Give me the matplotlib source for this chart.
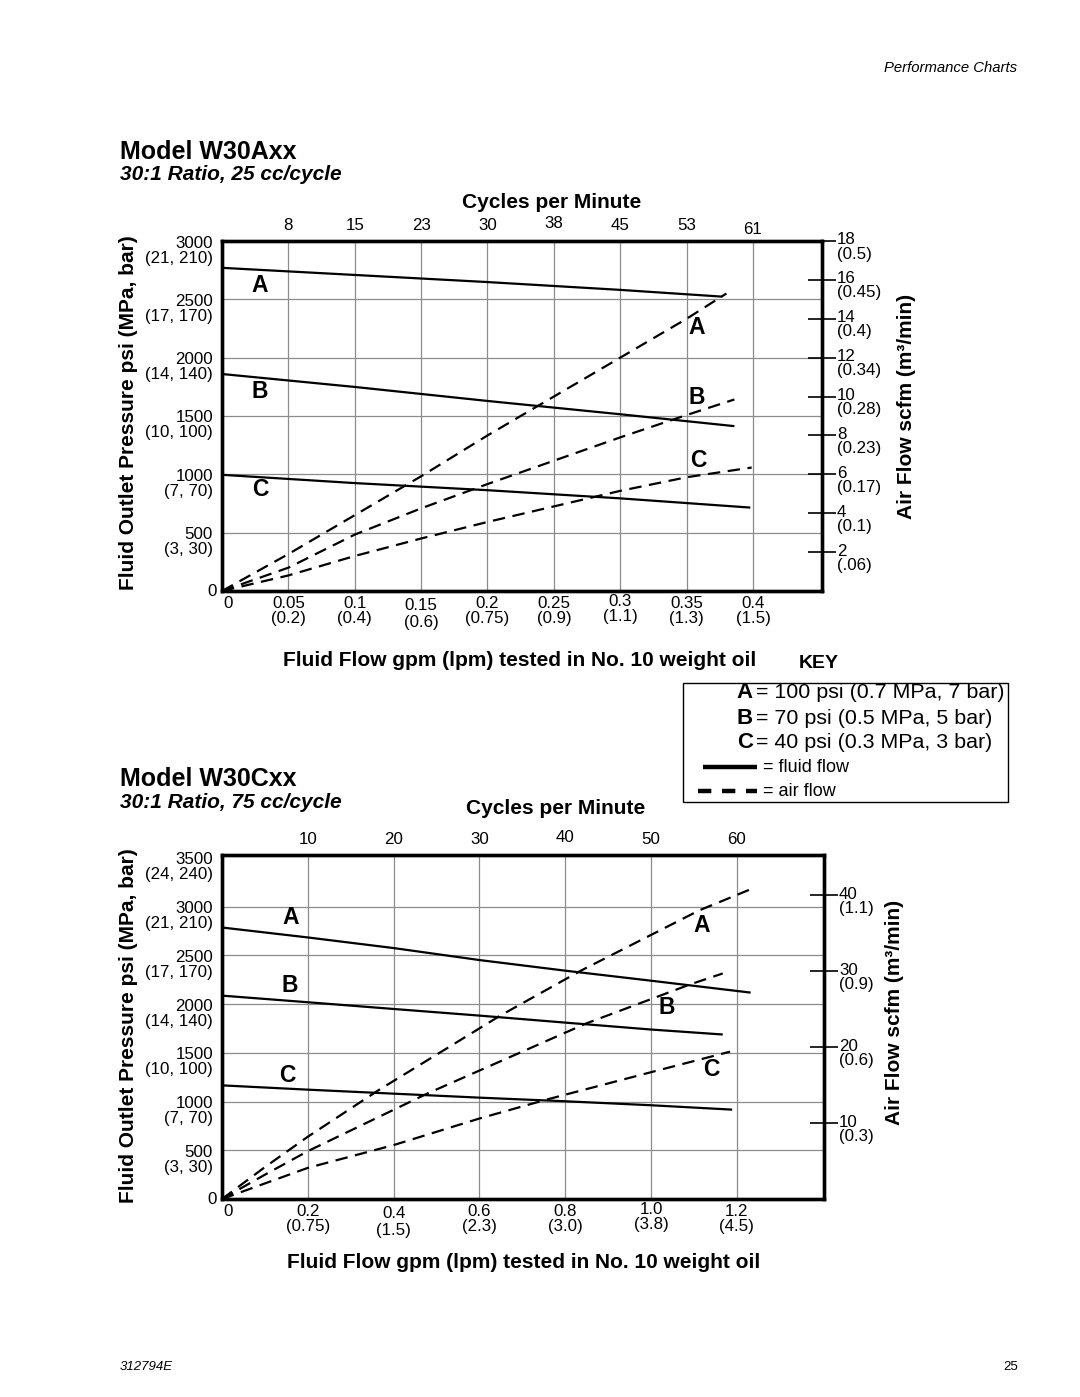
import matplotlib
matplotlib.use("Agg")
import matplotlib.pyplot as plt
from matplotlib import transforms as mtrans
from matplotlib.lines import Line2D
from matplotlib.patches import Rectangle

plt.rcParams['font.family'] = ['Liberation Sans', 'DejaVu Sans']

# ---------------- data: Model W30Axx ----------------
a_flow_ticks = [0.05, 0.1, 0.15, 0.2, 0.25, 0.3, 0.35, 0.4]
a_flow_labels = ['0.05', '0.1', '0.15', '0.2', '0.25', '0.3', '0.35', '0.4']
a_lpm_labels = ['(0.2)', '(0.4)', '(0.6)', '(0.75)', '(0.9)', '(1.1)', '(1.3)', '(1.5)']
a_cycles = ['8', '15', '23', '30', '38', '45', '53', '61']
a_psi_ticks = [500, 1000, 1500, 2000, 2500, 3000]
a_psi_metric = ['(3, 30)', '(7, 70)', '(10, 100)', '(14, 140)', '(17, 170)', '(21, 210)']
a_scfm_ticks = [2, 4, 6, 8, 10, 12, 14, 16, 18]
a_scfm_metric = ['(.06)', '(0.1)', '(0.17)', '(0.23)', '(0.28)', '(0.34)', '(0.4)', '(0.45)', '(0.5)']

a_fluid_A_x = [0, 0.1, 0.2, 0.3, 0.377]
a_fluid_A_psi = [2770, 2709, 2648, 2581, 2523]
a_fluid_B_x = [0, 0.1, 0.2, 0.3, 0.386]
a_fluid_B_psi = [1860, 1749, 1629, 1515, 1413]
a_fluid_C_x = [0, 0.1, 0.2, 0.3, 0.398]
a_fluid_C_psi = [996, 925, 864, 794, 715]

a_air_A_x = [0, 0.05, 0.1, 0.15, 0.2, 0.25, 0.3, 0.35, 0.38]
a_air_A_scfm = [0, 1.9, 3.9, 5.9, 8.0, 10.0, 12.0, 14.0, 15.3]
a_air_B_x = [0, 0.05, 0.1, 0.15, 0.2, 0.25, 0.3, 0.35, 0.386]
a_air_B_scfm = [0, 1.2, 2.9, 4.25, 5.5, 6.7, 7.9, 9.05, 9.85]
a_air_C_x = [0, 0.05, 0.1, 0.15, 0.2, 0.25, 0.3, 0.35, 0.399]
a_air_C_scfm = [0, 0.8, 1.8, 2.7, 3.55, 4.35, 5.15, 5.85, 6.35]

# ---------------- data: Model W30Cxx ----------------
c_flow_ticks = [0.2, 0.4, 0.6, 0.8, 1.0, 1.2]
c_flow_labels = ['0.2', '0.4', '0.6', '0.8', '1.0', '1.2']
c_lpm_labels = ['(0.75)', '(1.5)', '(2.3)', '(3.0)', '(3.8)', '(4.5)']
c_cycles = ['10', '20', '30', '40', '50', '60']
c_psi_ticks = [500, 1000, 1500, 2000, 2500, 3000, 3500]
c_psi_metric = ['(3, 30)', '(7, 70)', '(10, 100)', '(14, 140)', '(17, 170)', '(21, 210)', '(24, 240)']
c_scfm_ticks = [10, 20, 30, 40]
c_scfm_metric = ['(0.3)', '(0.6)', '(0.9)', '(1.1)']

c_fluid_A_x = [0, 0.2, 0.4, 0.6, 0.8, 1.0, 1.232]
c_fluid_A_psi = [2786, 2684, 2575, 2452, 2343, 2240, 2118]
c_fluid_B_x = [0, 0.2, 0.4, 0.6, 0.8, 1.0, 1.167]
c_fluid_B_psi = [2087, 2019, 1950, 1882, 1810, 1739, 1688]
c_fluid_C_x = [0, 0.2, 0.4, 0.6, 0.8, 1.0, 1.189]
c_fluid_C_psi = [1166, 1122, 1081, 1040, 1003, 962, 917]

c_air_A_x = [0, 0.1, 0.2, 0.364, 0.647, 0.834, 1.112, 1.228]
c_air_A_scfm = [0, 4.2, 8.2, 14.3, 24.1, 30.0, 38.0, 40.7]
c_air_B_x = [0, 0.1, 0.2, 0.479, 0.848, 1.093, 1.167]
c_air_B_scfm = [0, 3.2, 6.3, 13.9, 23.1, 28.3, 29.7]
c_air_C_x = [0, 0.2, 0.4, 0.6, 0.757, 1.0, 1.184]
c_air_C_scfm = [0, 4.1, 7.1, 10.6, 13.1, 16.7, 19.4]

W, H = 1080, 1397
fig = plt.figure(figsize=(W / 100, H / 100), dpi=100)


def ftext(x, y, s, **kw):
    kw.setdefault('ha', 'center')
    kw.setdefault('va', 'center')
    return fig.text(x / W, 1 - y / H, s, **kw)


def rect(l, t, r, b):
    return [l / W, 1 - b / H, (r - l) / W, (b - t) / H]


def off(trans, dx, dy):
    return mtrans.offset_copy(trans, fig=fig, x=dx, y=dy, units='dots')


TICK_FS = 12.2
GRID_C = '#8c8c8c'


def draw_chart(box, xlim, ylim, y2lim, xgrid, ygrid, cfg, top_nudge=None, bot_nudge=None):
    top_nudge = top_nudge or {}
    bot_nudge = bot_nudge or {}
    ax = fig.add_axes(rect(*box))
    ax.set_xlim(*xlim)
    ax.set_ylim(*ylim)
    ax.set_xticks([])
    ax.set_yticks([])
    for x in xgrid:
        ax.axvline(x, color=GRID_C, lw=0.9, zorder=1)
    for y in ygrid:
        ax.axhline(y, color=GRID_C, lw=0.9, zorder=1)
    for sp in ax.spines.values():
        sp.set_linewidth(2.4)
        sp.set_zorder(5)
    for xs, ys in cfg['fluid']:
        ax.plot(xs, ys, color='black', lw=1.6, solid_capstyle='butt', zorder=3)

    ax2 = ax.twinx()
    ax2.set_ylim(*y2lim)
    ax2.set_yticks(cfg['scfm_ticks'])
    ax2.set_yticklabels([])
    ax2.tick_params(axis='y', direction='inout', length=20, width=1.2, color='black')
    for sp in ax2.spines.values():
        sp.set_linewidth(2.4)
    for xs, ys in cfg['air']:
        ln, = ax2.plot(xs, ys, color='black', lw=1.6, zorder=3)
        ln.set_dashes((5.6, 3.4))

    # left labels
    tl = mtrans.blended_transform_factory(ax.transAxes, ax.transData)
    for v, m in zip(cfg['psi_ticks'], cfg['psi_metric']):
        ax.text(0, v, str(v), transform=off(tl, -9, -2), ha='right', va='center',
                fontsize=TICK_FS)
        ax.text(0, v, m, transform=off(tl, -9, -17), ha='right', va='center',
                fontsize=TICK_FS)
    ax.text(0, ylim[0], '0', transform=off(tl, -5, 0), ha='right', va='center',
            fontsize=TICK_FS)

    # bottom labels
    tb = mtrans.blended_transform_factory(ax.transData, ax.transAxes)
    ax.text(0, 0, '0', transform=off(tb, 6, -12), ha='center', va='center',
            fontsize=TICK_FS)
    for i, (x, s, m) in enumerate(zip(cfg['flow_ticks'], cfg['flow_labels'], cfg['lpm_labels'])):
        dn = bot_nudge.get(i, 0)
        ax.text(x, 0, s, transform=off(tb, 0, -12 + dn), ha='center', va='center',
                fontsize=TICK_FS)
        ax.text(x, 0, m, transform=off(tb, 0, -28 + dn), ha='center', va='center',
                fontsize=TICK_FS)
    # top labels (cycles per minute)
    for i, (x, s) in enumerate(zip(cfg['flow_ticks'], cfg['cycles'])):
        ax.text(x, 1, s, transform=off(tb, 0, 15 + top_nudge.get(i, 0)),
                ha='center', va='center', fontsize=TICK_FS)

    # right labels
    tr = mtrans.blended_transform_factory(ax2.transAxes, ax2.transData)
    for v, m in zip(cfg['scfm_ticks'], cfg['scfm_metric']):
        ax2.text(1, v, str(v), transform=off(tr, 15, 1), ha='left', va='center',
                 fontsize=TICK_FS)
        ax2.text(1, v, m, transform=off(tr, 15, -13), ha='left', va='center',
                 fontsize=TICK_FS)
    return ax, ax2


cfg_a = dict(
    fluid=[(a_fluid_A_x, a_fluid_A_psi), (a_fluid_B_x, a_fluid_B_psi), (a_fluid_C_x, a_fluid_C_psi)],
    air=[(a_air_A_x, a_air_A_scfm), (a_air_B_x, a_air_B_scfm), (a_air_C_x, a_air_C_scfm)],
    psi_ticks=a_psi_ticks, psi_metric=a_psi_metric,
    scfm_ticks=a_scfm_ticks, scfm_metric=a_scfm_metric,
    flow_ticks=a_flow_ticks, flow_labels=a_flow_labels, lpm_labels=a_lpm_labels,
    cycles=a_cycles,
)
cfg_c = dict(
    fluid=[(c_fluid_A_x, c_fluid_A_psi), (c_fluid_B_x, c_fluid_B_psi), (c_fluid_C_x, c_fluid_C_psi)],
    air=[(c_air_A_x, c_air_A_scfm), (c_air_B_x, c_air_B_scfm), (c_air_C_x, c_air_C_scfm)],
    psi_ticks=c_psi_ticks, psi_metric=c_psi_metric,
    scfm_ticks=c_scfm_ticks, scfm_metric=c_scfm_metric,
    flow_ticks=c_flow_ticks, flow_labels=c_flow_labels, lpm_labels=c_lpm_labels,
    cycles=c_cycles,
)

draw_chart((222, 241, 822, 591), (0, 0.452), (0, 3000), (0, 18),
           a_flow_ticks, [500, 1000, 1500, 2000, 2500], cfg_a,
           top_nudge={4: 2, 5: 1, 7: -4}, bot_nudge={2: -3, 5: 2})
draw_chart((222, 855, 824, 1199), (0, 1.403), (0, 3530), (0, 45.3),
           c_flow_ticks, [500, 1000, 1500, 2000, 2500, 3000], cfg_c,
           top_nudge={3: 3}, bot_nudge={1: -3, 4: 2})

# ---------------- page texts ----------------
ftext(1017, 68, 'Performance Charts', ha='right', fontsize=10.7, style='italic')

ftext(120, 152, 'Model W30Axx', ha='left', fontsize=18, weight='bold')
ftext(120, 175, '30:1 Ratio, 25 cc/cycle', ha='left', fontsize=15, weight='bold', style='italic')
ftext(552, 202, 'Cycles per Minute', fontsize=15, weight='bold')
ftext(520, 661, 'Fluid Flow gpm (lpm) tested in No. 10 weight oil', fontsize=15, weight='bold')
ftext(129, 413, 'Fluid Outlet Pressure psi (MPa, bar)', fontsize=15, weight='bold', rotation=90)
ftext(907, 406, 'Air Flow scfm (m³/min)', fontsize=15, weight='bold', rotation=90)

ftext(120, 779, 'Model W30Cxx', ha='left', fontsize=18, weight='bold')
ftext(120, 802, '30:1 Ratio, 75 cc/cycle', ha='left', fontsize=15, weight='bold', style='italic')
ftext(556, 808, 'Cycles per Minute', fontsize=15, weight='bold')
ftext(524, 1262, 'Fluid Flow gpm (lpm) tested in No. 10 weight oil', fontsize=15, weight='bold')
ftext(129, 1026, 'Fluid Outlet Pressure psi (MPa, bar)', fontsize=15, weight='bold', rotation=90)
ftext(895, 1012, 'Air Flow scfm (m³/min)', fontsize=15, weight='bold', rotation=90)

# curve letters
for (x, y, s) in [(260, 285, 'A'), (260, 391, 'B'), (260, 490, 'C'),
                  (697, 327, 'A'), (697, 397, 'B'), (698, 461, 'C'),
                  (291, 918, 'A'), (290, 985, 'B'), (287, 1075, 'C'),
                  (702, 925, 'A'), (667, 1008, 'B'), (711, 1070, 'C')]:
    ftext(x, y, s, fontsize=16.5, weight='bold')

# ---------------- KEY ----------------
ftext(819, 663, 'KEY', fontsize=14, weight='bold')
fig.patches.append(Rectangle((683 / W, 1 - 802 / H), (1008 - 683) / W, (802 - 683) / H,
                             transform=fig.transFigure, fill=False, lw=1.0,
                             edgecolor='black'))
key_rows = [('A', '= 100 psi (0.7 MPa, 7 bar)', 693),
            ('B', '= 70 psi (0.5 MPa, 5 bar)', 718),
            ('C', '= 40 psi (0.3 MPa, 3 bar)', 743)]
for letter, desc, y in key_rows:
    ftext(753, y, letter, ha='right', fontsize=16, weight='bold')
    ftext(756, y, desc, ha='left', fontsize=15.4)
fig.lines.append(Line2D([703 / W, 757 / W], [1 - 767 / H, 1 - 767 / H],
                        transform=fig.transFigure, color='black', lw=3.2,
                        solid_capstyle='butt'))
dl = Line2D([698 / W, 757 / W], [1 - 791 / H, 1 - 791 / H],
            transform=fig.transFigure, color='black', lw=3.2, dash_capstyle='butt')
dl.set_dashes((3.0, 2.4))
fig.lines.append(dl)
ftext(763, 767, '= fluid flow', ha='left', fontsize=13)
ftext(763, 791, '= air flow', ha='left', fontsize=13)

# ---------------- footer ----------------
ftext(120, 1367, '312794E', ha='left', fontsize=9.5, style='italic')
ftext(1018, 1367, '25', ha='right', fontsize=9.5)

fig.savefig('out.png', dpi=100)
